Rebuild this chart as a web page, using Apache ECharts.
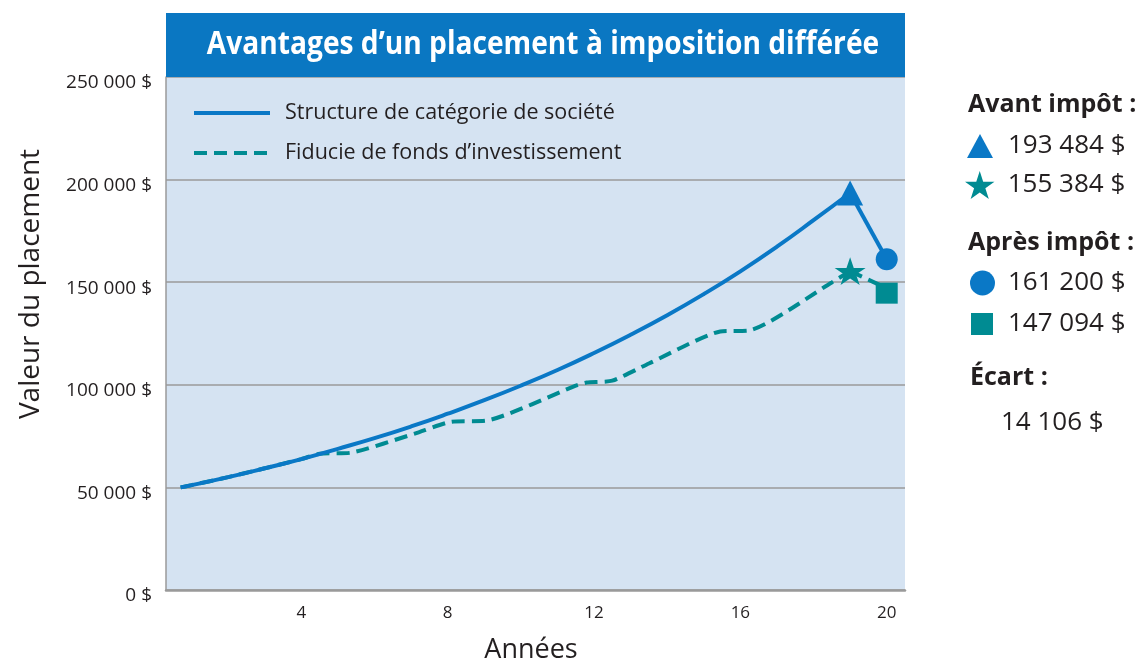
<!DOCTYPE html>
<html>
<head>
<meta charset="utf-8">
<script src="https://cdn.jsdelivr.net/npm/echarts@6/dist/echarts.min.js"></script>
<style>
html,body{margin:0;padding:0;background:#fff;}
#c{width:1137px;height:664px;}
</style>
</head>
<body>
<div id="c"></div>
<script>
// ---- data ----
const blueYears  = [0.7, 1, 2, 3, 4, 5, 6, 7, 8, 9, 10, 11, 12, 13, 14, 15, 16, 17, 18, 19];
const blueValues = [50000, 51100, 55000, 59300, 63800, 68800, 74000, 79700, 85900, 92500, 99600, 107200, 115500, 124400, 133900, 144200, 155300, 167300, 180200, 193484];
const tealYears  = [0.7, 1, 2, 3, 4, 4.5, 5.35, 7.1, 8.1, 9.05, 11.5, 11.8, 12.5, 13.5, 15.45, 16.25, 18.5, 19];
const tealValues = [50000, 51100, 55000, 59300, 63800, 66400, 66900, 76200, 82000, 82500, 99600, 101100, 102000, 110400, 126000, 126500, 149900, 155384];
const markerYears  = [19, 19, 20, 20];
const markerValues = [193484, 155384, 161200, 147094];
const xTickValues = [4, 8, 12, 16, 20];
const yTickStep = 50000;
const seriesNames = ['Structure de catégorie de société', 'Fiducie de fonds d’investissement'];
const titleText = 'Avantages d’un placement à imposition différée';
const headers = ['Avant impôt :', 'Après impôt :', 'Écart :'];

const fmt = v => String(Math.round(v)).replace(/\B(?=(\d{3})+(?!\d))/g, ' ') + ' $';
const markerNames = markerValues.map(fmt);
const gapText = fmt(markerValues[2] - markerValues[3]);
const zip = (xs, ys) => xs.map((x, i) => [x, ys[i]]);

const BLUE = '#0a78c6';
const TEAL = '#008b92';
const TXT = '#231f20';
const FONT = 'Open Sans';
const STAR = 'path://M50,0 L61.2,34.5 L97.6,34.5 L68.2,55.9 L79.4,90.5 L50,69.1 L20.6,90.5 L31.8,55.9 L2.4,34.5 L38.8,34.5 Z';
const DASH = [13, 7];

const markerSymbols = ['triangle', STAR, 'circle', 'rect'];
const markerColors = [BLUE, TEAL, BLUE, TEAL];
const markerSizes = [[26, 25], [31, 29], [22, 22], [22, 21]];
const markerOffsets = [[0, 0], [0, 0], [0, 0], [0, 5]];

const chart = echarts.init(document.getElementById('c'), null, {renderer: 'canvas'});

const rightLegends = [
  {w: 26, h: 24, left: 967, top: 133, pad: 10},
  {w: 30, h: 28, left: 965, top: 171, pad: 8},
  {w: 25, h: 25, left: 970, top: 270, pad: 8},
  {w: 22, h: 22, left: 971, top: 311, pad: 10}
].map((o, i) => ({
  data: [markerNames[i]],
  orient: 'vertical',
  left: o.left, top: o.top, padding: 0,
  itemWidth: o.w, itemHeight: o.h,
  selectedMode: false,
  textStyle: {fontFamily: FONT, fontSize: 26, color: TXT, padding: [0, 0, 0, o.pad]}
}));

const option = {
  backgroundColor: '#ffffff',
  animation: false,
  grid: {left: 166, right: 232, top: 77, bottom: 74, show: true, backgroundColor: '#d5e3f2', borderWidth: 0},
  xAxis: {
    type: 'value', min: 0.3, max: 20.5,
    axisLine: {show: true, lineStyle: {color: '#9a9a9a', width: 2.5}},
    axisTick: {show: false},
    splitLine: {show: false},
    axisLabel: {customValues: xTickValues, fontFamily: FONT, fontSize: 17, color: TXT, margin: 15}
  },
  yAxis: {
    type: 'value', min: 0, max: 5 * yTickStep, interval: yTickStep,
    axisLine: {show: true, lineStyle: {color: '#9a9a9a', width: 1.5}},
    axisTick: {show: false},
    splitLine: {show: true, lineStyle: {color: '#9a9a9a', width: 1.5}},
    axisLabel: {formatter: fmt, fontFamily: FONT, fontSize: 19, color: TXT, margin: 14, verticalAlign: 'top', lineHeight: 12}
  },
  legend: [{
    data: seriesNames,
    orient: 'vertical',
    left: 192, top: 102, padding: 0,
    itemWidth: 76, itemHeight: 20, itemGap: 18,
    selectedMode: false,
    itemStyle: {color: 'rgba(0,0,0,0)', borderWidth: 0},
    lineStyle: {width: 4},
    textStyle: {fontFamily: FONT, fontSize: 21.5, color: TXT, padding: [0, 0, 0, 10]}
  }].concat(rightLegends),
  series: [
    {
      name: seriesNames[1], type: 'line', data: zip(tealYears, tealValues),
      symbol: 'none', smooth: 0.2, z: 2,
      lineStyle: {color: TEAL, width: 4, type: DASH}, itemStyle: {color: TEAL}
    },
    {
      type: 'line', data: [[markerYears[1], markerValues[1]], [markerYears[3], markerValues[3]]],
      symbol: 'none', z: 2,
      lineStyle: {color: TEAL, width: 4, type: DASH}
    },
    {
      name: seriesNames[0], type: 'line', data: zip(blueYears, blueValues),
      symbol: 'none', smooth: true, z: 3,
      lineStyle: {color: BLUE, width: 4}, itemStyle: {color: BLUE}
    },
    {
      type: 'line', data: [[markerYears[0], markerValues[0]], [markerYears[2], markerValues[2]]],
      symbol: 'none', z: 3,
      lineStyle: {color: BLUE, width: 4}
    }
  ].concat(markerValues.map((v, i) => ({
    name: markerNames[i], type: 'scatter', z: 5,
    data: [[markerYears[i], v]],
    symbol: markerSymbols[i], symbolSize: markerSizes[i], symbolOffset: markerOffsets[i],
    symbolKeepAspect: i === 1,
    itemStyle: {color: markerColors[i], opacity: 1}
  }))),
  graphic: [
    {type: 'rect', shape: {x: 166, y: 13, width: 739, height: 64}, style: {fill: '#0a77c2'}, z: 10},
    {type: 'text', x: 543, y: 45, scaleX: 0.853, z: 11,
     style: {text: titleText, fill: '#ffffff', font: 'bold 33px "Open Sans"', align: 'center', verticalAlign: 'middle'}},
    {type: 'text', x: 31, y: 284, rotation: Math.PI / 2, z: 11,
     style: {text: 'Valeur du placement', fill: TXT, font: '28px "Open Sans"', align: 'center', verticalAlign: 'middle'}},
    {type: 'text', x: 531, y: 650, z: 11,
     style: {text: 'Années', fill: TXT, font: '27px "Open Sans"', align: 'center', verticalAlign: 'middle'}},
    {type: 'text', x: 968, y: 105, z: 11,
     style: {text: headers[0], fill: TXT, font: 'bold 25px "Open Sans"', align: 'left', verticalAlign: 'middle'}},
    {type: 'text', x: 968, y: 243, z: 11,
     style: {text: headers[1], fill: TXT, font: 'bold 25px "Open Sans"', align: 'left', verticalAlign: 'middle'}},
    {type: 'text', x: 970, y: 378, z: 11,
     style: {text: headers[2], fill: TXT, font: 'bold 25px "Open Sans"', align: 'left', verticalAlign: 'middle'}},
    {type: 'text', x: 1001, y: 423, z: 11,
     style: {text: gapText, fill: TXT, font: '26px "Open Sans"', align: 'left', verticalAlign: 'middle'}}
  ]
};
chart.setOption(option);
</script>
</body>
</html>
